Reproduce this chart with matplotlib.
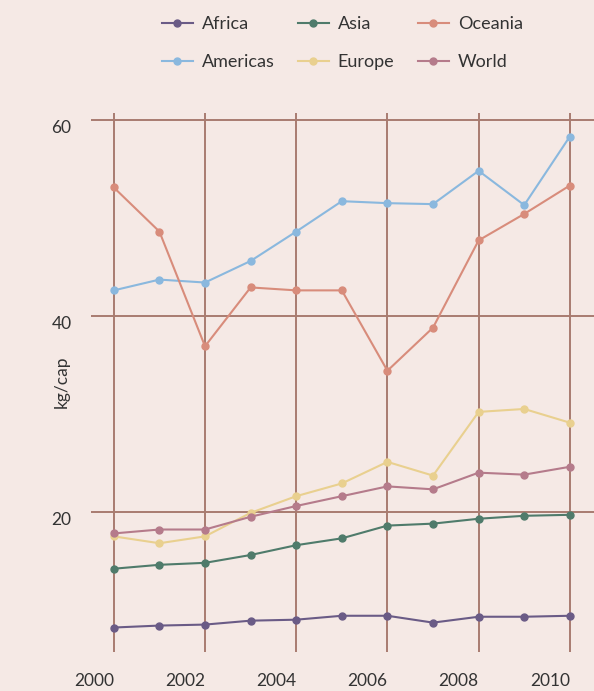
import matplotlib.pyplot as plt

# Values (kg per capita)
years = [2000, 2001, 2002, 2003, 2004, 2005, 2006, 2007, 2008, 2009, 2010]
africa = [8.2, 8.4, 8.5, 8.9, 9.0, 9.4, 9.4, 8.7, 9.3, 9.3, 9.4]
americas = [42.6, 43.7, 43.4, 45.6, 48.6, 51.7, 51.5, 51.4, 54.8, 51.3, 58.3]
asia = [14.2, 14.6, 14.8, 15.6, 16.6, 17.3, 18.6, 18.8, 19.3, 19.6, 19.7]
europe = [17.5, 16.8, 17.5, 19.9, 21.6, 22.9, 25.1, 23.7, 30.2, 30.5, 29.1]
oceania = [53.1, 48.6, 36.9, 42.9, 42.6, 42.6, 34.4, 38.8, 47.7, 50.4, 53.3]
world = [17.8, 18.2, 18.2, 19.5, 20.6, 21.6, 22.6, 22.3, 24.0, 23.8, 24.6]
x_ticks = [2000, 2002, 2004, 2006, 2008, 2010]
y_ticks = [20, 40, 60]

bg = '#f5e9e5'
grid = '#a87c70'
text = '#333333'

plt.rcParams['font.family'] = ['Lato', 'DejaVu Sans']

fig = plt.figure(figsize=(5.94, 6.91), dpi=100, facecolor=bg)
ax = fig.add_axes([0.1532, 0.0564, 0.8468, 0.7801], facecolor=bg)

series = [
    ('Africa', africa, '#6a5b86'),
    ('Americas', americas, '#8ab8de'),
    ('Asia', asia, '#4f7b6b'),
    ('Europe', europe, '#e9d08f'),
    ('Oceania', oceania, '#d88c7b'),
    ('World', world, '#b57b8b'),
]
for name, vals, col in series:
    ax.plot(years, vals, color=col, lw=1.5, marker='o', ms=5, label=name, zorder=3)

ax.set_xlim(1999.5, 2010.53)
ax.set_ylim(5.7, 60.7)

for x in x_ticks:
    ax.axvline(x, color=grid, lw=1.4, zorder=1)
for y in y_ticks:
    ax.axhline(y, color=grid, lw=1.4, zorder=1)

ax.set_xticks(x_ticks)
ax.set_xticklabels([str(x) for x in x_ticks], ha='right')
ax.set_yticks(y_ticks)
ax.set_yticklabels([str(y) for y in y_ticks], va='top')
ax.tick_params(axis='x', length=0, pad=15, labelsize=12.5, labelcolor=text)
ax.tick_params(axis='y', length=0, pad=14, labelsize=12.5, labelcolor=text)
for s in ax.spines.values():
    s.set_visible(False)

fig.text(0.104, 0.447, 'kg/cap', rotation=90, ha='center', va='center',
         fontsize=12.5, color=text)

fig.legend(loc='upper center', bbox_to_anchor=(0.576, 1.0), ncol=3, frameon=False,
           fontsize=13, handlelength=1.72, columnspacing=1.28, labelspacing=1.2,
           handletextpad=0.5, labelcolor=text)

fig.savefig('out.png', dpi=100, facecolor=bg)
